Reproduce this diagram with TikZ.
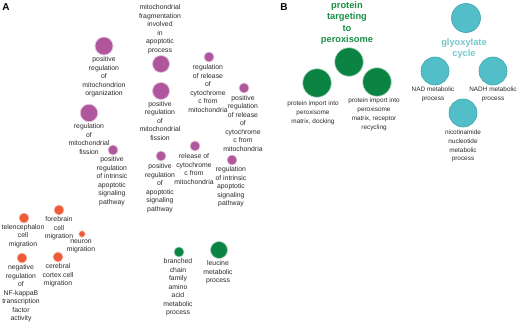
\documentclass[tikz,border=0pt]{standalone}
\usepackage{fontspec}
\setmainfont{Liberation Sans}
\definecolor{pcol}{HTML}{B0569C}
\definecolor{ocol}{HTML}{EE5B3B}
\definecolor{gcol}{HTML}{0B8443}
\definecolor{ccol}{HTML}{52BEC7}
\definecolor{ccoledge}{HTML}{3FA4AE}
\definecolor{tcol}{HTML}{2A2A2A}
\definecolor{gtitle}{HTML}{189046}
\definecolor{ctitle}{HTML}{74C8CF}
\begin{document}
\begin{tikzpicture}[x=1pt,y=-1pt,
  dot/.style={circle,inner sep=0pt,minimum size=#1},
  pdot/.style={dot=#1,fill=pcol,draw=pcol!35,line width=0.7pt},
  odot/.style={dot=#1,fill=ocol,draw=ocol!35,line width=0.6pt},
  gdot/.style={dot=#1,fill=gcol,draw=gcol!35,line width=0.6pt},
  cdot/.style={dot=#1,fill=ccol,draw=ccoledge,line width=0.6pt},
  lbl/.style={align=center,inner sep=0pt,text=tcol,font=\fontsize{6.85}{8.5}\selectfont},
  lblb/.style={align=center,inner sep=0pt,text=tcol,font=\fontsize{6.4}{8.8}\selectfont},
  ttl/.style={align=center,inner sep=0pt,font=\bfseries\fontsize{9.3}{11.3}\selectfont},
  panel/.style={inner sep=0pt,font=\bfseries\fontsize{10}{12}\selectfont,text=black}]
\useasboundingbox (0,0) rectangle (520,324);
\fill[white] (0,0) rectangle (520,324);
% panel labels
\node[panel] (pa) at (6,7) {A};
\node[panel] (pb) at (284,7) {B};
% purple cluster
\node[pdot=18pt] (p1) at (104,46) {};
\node[lbl] (l1) at (104,77) {positive\\regulation\\of\\mitochondrion\\organization};
\node[pdot=17pt] (p2) at (161,64) {};
\node[lbl] (l2) at (160,29) {mitochondrial\\fragmentation\\involved\\in\\apoptotic\\process};
\node[pdot=17pt] (p3) at (161,91) {};
\node[lbl] (l3) at (160,121) {positive\\regulation\\of\\mitochondrial\\fission};
\node[pdot=10pt] (p4) at (209,57) {};
\node[lbl] (l4) at (208,88.5) {regulation\\of release\\of\\cytochrome\\c from\\mitochondria};
\node[pdot=10pt] (p5) at (244,88) {};
\node[lbl] (l5) at (243,123.5) {positive\\regulation\\of release\\of\\cytochrome\\c from\\mitochondria};
\node[pdot=17.5pt] (p6) at (89,113) {};
\node[lbl] (l6) at (89,139) {regulation\\of\\mitochondrial\\fission};
\node[pdot=10pt] (p7) at (113,150) {};
\node[lbl] (l7) at (112,181) {positive\\regulation\\of intrinsic\\apoptotic\\signaling\\pathway};
\node[pdot=10pt] (p8) at (161,156) {};
\node[lbl] (l8) at (160,188) {positive\\regulation\\of\\apoptotic\\signaling\\pathway};
\node[pdot=10pt] (p9) at (195,146) {};
\node[lbl] (l9) at (194,169) {release of\\cytochrome\\c from\\mitochondria};
\node[pdot=10pt] (p10) at (232,160) {};
\node[lbl] (l10) at (231,187) {regulation\\of intrinsic\\apoptotic\\signaling\\pathway};
% orange cluster
\node[odot=10pt] (o1) at (24,218) {};
\node[lbl] (m1) at (23,236) {telencephalon\\cell\\migration};
\node[odot=10pt] (o2) at (59,210) {};
\node[lbl] (m2) at (59,228.5) {forebrain\\cell\\migration};
\node[odot=6.5pt] (o3) at (82,234) {};
\node[lbl] (m3) at (81,246.5) {neuron\\migration};
\node[odot=10pt] (o4) at (22,258) {};
\node[lbl] (m4) at (21,293.5) {negative\\regulation\\of\\NF-kappaB\\transcription\\factor\\activity};
\node[odot=10pt] (o5) at (58,257) {};
\node[lbl] (m5) at (58,275.5) {cerebral\\cortex cell\\migration};
% green cluster A
\node[gdot=10pt] (g1) at (179,252) {};
\node[lbl] (n1) at (178,287.5) {branched\\chain\\family\\amino\\acid\\metabolic\\process};
\node[gdot=17pt] (g2) at (219,250) {};
\node[lbl] (n2) at (218,272.5) {leucine\\metabolic\\process};
% panel B green
\node[ttl,text=gtitle] (t1) at (347,23) {protein\\targeting\\to\\peroxisome};
\node[gdot=28.5pt] (b1) at (349,62) {};
\node[gdot=28.5pt] (b2) at (317,83) {};
\node[lblb] (k2) at (313,113) {protein import into\\peroxisome\\matrix, docking};
\node[gdot=28.5pt] (b3) at (377,82) {};
\node[lblb] (k3) at (374,114.5) {protein import into\\peroxisome\\matrix, receptor\\recycling};
% panel B cyan
\node[cdot=29pt] (c1) at (466,18) {};
\node[ttl,text=ctitle] (t2) at (464,48.5) {glyoxylate\\cycle};
\node[cdot=28pt] (c2) at (435,71) {};
\node[lblb] (k5) at (433,94.5) {NAD metabolic\\process};
\node[cdot=28pt] (c3) at (493,71) {};
\node[lblb] (k6) at (493,94.5) {NADH metabolic\\process};
\node[cdot=28pt] (c4) at (463,113) {};
\node[lblb] (k7) at (463,146) {nicotinamide\\nucleotide\\metabolic\\process};
\end{tikzpicture}
\end{document}
